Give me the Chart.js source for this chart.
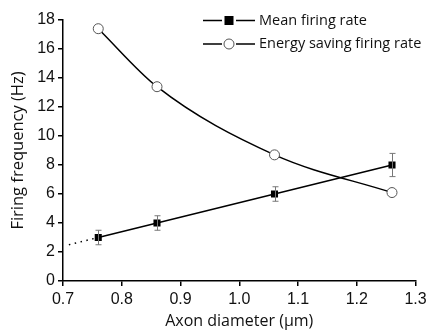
<!DOCTYPE html>
<html><head><meta charset="utf-8">
<script src="https://cdn.jsdelivr.net/npm/chart.js@4/dist/chart.umd.min.js"></script>
<style>html,body{margin:0;padding:0;background:#fff}#wrap{width:427px;height:333px}</style>
</head><body><div id="wrap"><canvas id="c" width="427" height="333"></canvas></div>
<script>
const diameters = [0.76, 0.86, 1.06, 1.26];
const meanRate = [3.0, 4.0, 6.0, 8.0];
const meanErr = [0.5, 0.5, 0.5, 0.8];
const energyRate = [17.4, 13.4, 8.7, 6.1];
const extX = [0.71, 0.76];
const extY = [2.5, 3.0];
const xTicks = [0.7, 0.8, 0.9, 1.0, 1.1, 1.2, 1.3];
const yTicks = [0, 2, 4, 6, 8, 10, 12, 14, 16, 18];
const legendLabels = ['Mean firing rate', 'Energy saving firing rate'];

const TXT = "'Open Sans', sans-serif";
const NUM = "'Liberation Sans', Arial, sans-serif";

const errPlugin = {
  id: 'err',
  afterDatasetsDraw(chart) {
    const ctx = chart.ctx, xs = chart.scales.x, ys = chart.scales.y;
    ctx.save();
    ctx.strokeStyle = '#777'; ctx.lineWidth = 1;
    diameters.forEach((d, i) => {
      const x = Math.round(xs.getPixelForValue(d)) + 0.5;
      const t = ys.getPixelForValue(meanRate[i] + meanErr[i]);
      const b = ys.getPixelForValue(meanRate[i] - meanErr[i]);
      ctx.beginPath();
      ctx.moveTo(x, t); ctx.lineTo(x, b);
      ctx.moveTo(x - 3, t); ctx.lineTo(x + 3, t);
      ctx.moveTo(x - 3, b); ctx.lineTo(x + 3, b);
      ctx.stroke();
    });
    ctx.restore();
  }
};
const legendPlugin = {
  id: 'lg',
  afterDraw(chart) {
    const ctx = chart.ctx;
    ctx.save();
    const rows = [20.5, 44];
    rows.forEach((y, i) => {
      ctx.strokeStyle = '#000'; ctx.lineWidth = 1.5;
      ctx.beginPath();
      ctx.moveTo(203, y); ctx.lineTo(222, y);
      ctx.moveTo(236, y); ctx.lineTo(255, y);
      ctx.stroke();
      if (i === 0) {
        ctx.fillStyle = '#000';
        ctx.fillRect(224.5, y - 4.5, 9, 9);
      } else {
        ctx.fillStyle = '#fff'; ctx.strokeStyle = '#555'; ctx.lineWidth = 1;
        ctx.beginPath(); ctx.arc(229, y, 5, 0, Math.PI * 2); ctx.fill(); ctx.stroke();
      }
      ctx.fillStyle = '#111';
      ctx.font = '14.5px ' + TXT;
      ctx.textBaseline = 'middle';
      ctx.textAlign = 'left';
      ctx.fillText(legendLabels[i], 259, y);
    });
    ctx.restore();
  }
};

new Chart(document.getElementById('c'), {
  type: 'scatter',
  data: {
    datasets: [
      {
        label: legendLabels[0],
        data: diameters.map((d, i) => ({x: d, y: meanRate[i]})),
        showLine: true, borderColor: '#000', borderWidth: 1.5,
        pointStyle: 'rect', pointRadius: 5, pointBackgroundColor: '#000', pointBorderColor: '#000', pointBorderWidth: 0,
        order: 0
      },
      {
        label: legendLabels[1],
        data: diameters.map((d, i) => ({x: d, y: energyRate[i]})),
        showLine: true, borderColor: '#000', borderWidth: 1.5, cubicInterpolationMode: 'monotone',
        pointStyle: 'circle', pointRadius: 5, pointBackgroundColor: '#fff', pointBorderColor: '#555', pointBorderWidth: 1,
        order: 1
      },
      {
        label: 'ext',
        data: extX.map((d, i) => ({x: d, y: extY[i]})),
        showLine: true, borderColor: '#000', borderWidth: 1.5, borderDash: [1.5, 4.5],
        pointRadius: 0, order: 2
      }
    ]
  },
  options: {
    responsive: false, animation: false,
    layout: {padding: {top: 20, right: 11.5, left: 0, bottom: 0}},
    plugins: {legend: {display: false}, tooltip: {enabled: false}},
    scales: {
      x: {
        type: 'linear', min: 0.7, max: 1.3,
        afterFit(s) { s.height = 52; s.paddingRight = 0; s.paddingLeft = 0; },
        afterBuildTicks(s) { s.ticks = xTicks.map(v => ({value: v})); },
        ticks: {font: {size: 16, family: NUM}, color: '#111', padding: 4, maxRotation: 0,
          callback: v => v.toFixed(1)},
        grid: {drawOnChartArea: false, drawTicks: true, tickLength: 5, color: '#000', lineWidth: 1.5},
        border: {display: true, color: '#000', width: 1.5},
        title: {display: true, text: 'Axon diameter (μm)', font: {size: 16, family: TXT}, color: '#111', padding: {top: 4, bottom: 2}}
      },
      y: {
        min: 0, max: 18,
        afterFit(s) { s.width = 63; s.paddingTop = 0; s.paddingBottom = 0; },
        afterBuildTicks(s) { s.ticks = yTicks.map(v => ({value: v})); },
        ticks: {font: {size: 16, family: NUM}, color: '#111', padding: 3},
        grid: {drawOnChartArea: false, drawTicks: true, tickLength: 5, color: '#000', lineWidth: 1.5},
        border: {display: true, color: '#000', width: 1.5},
        title: {display: true, text: 'Firing frequency (Hz)', font: {size: 16.5, family: TXT}, color: '#111', padding: {top: 8, bottom: 0}}
      }
    }
  },
  plugins: [errPlugin, legendPlugin]
});
</script></body></html>
